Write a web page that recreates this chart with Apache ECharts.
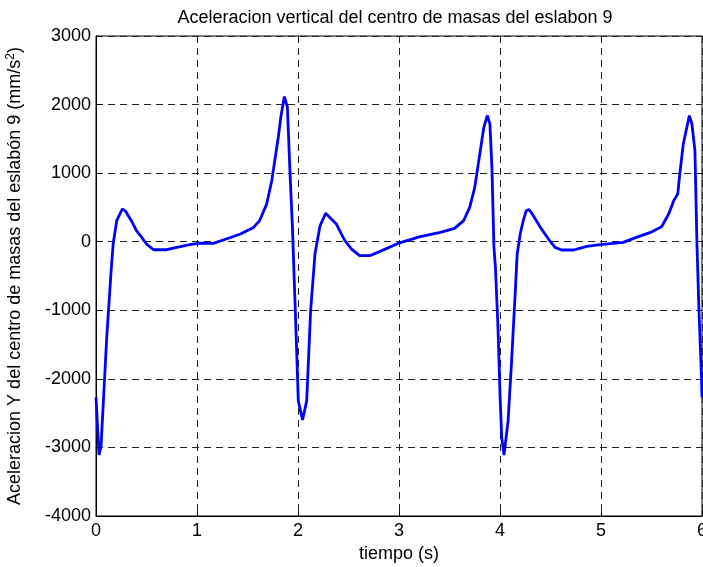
<!DOCTYPE html>
<html>
<head>
<meta charset="utf-8">
<script src="https://cdn.jsdelivr.net/npm/echarts@6/dist/echarts.min.js"></script>
<style>
  html, body { margin: 0; padding: 0; background: #fff; }
  #chart { width: 703px; height: 567px; }
</style>
</head>
<body>
<div id="chart"></div>
<script>
// Time samples (s) along the gait cycles
const timeValues = [
  0.00, 0.03, 0.05, 0.106, 0.15, 0.17, 0.205, 0.26, 0.29, 0.35, 0.40, 0.44, 0.50, 0.57, 0.70, 0.80, 0.93,
  1.03, 1.16, 1.29, 1.43, 1.56, 1.62, 1.69, 1.74, 1.77, 1.805, 1.83, 1.865, 1.895, 1.92, 1.945, 1.97, 1.99,
  2.003, 2.045, 2.086, 2.125, 2.168, 2.218, 2.274, 2.33, 2.38, 2.43, 2.465, 2.53, 2.61, 2.71, 2.83, 2.99,
  3.21, 3.41, 3.55, 3.64, 3.70, 3.75, 3.79, 3.82, 3.84, 3.874, 3.90, 3.92, 3.94, 3.955, 3.98,
  4.00, 4.017, 4.04, 4.08, 4.115, 4.15, 4.17, 4.20, 4.23, 4.26, 4.29, 4.33, 4.40, 4.48, 4.545, 4.61, 4.73, 4.86, 4.99,
  5.12, 5.22, 5.35, 5.49, 5.60, 5.67, 5.72, 5.76, 5.78, 5.815, 5.85, 5.875, 5.90, 5.93, 5.95, 5.97, 5.995, 6.00
];

// Vertical acceleration of link 9 centre of mass (mm/s^2)
const accelValues = [
  -2270, -3110, -2980, -1400, -420, -29, 307, 477, 450, 307, 161, 88, -34, -117, -117, -83, -44,
  -22, -25, 39, 112, 209, 307, 550, 890, 1183, 1523, 1815, 2117, 1961, 1037, 209, -861, -1737,
  -2321, -2600, -2321, -1007, -180, 233, 414, 331, 258, 112, 15, -107, -204, -204, -130, -25,
  73, 136, 195, 307, 501, 793, 1183, 1475, 1669, 1840, 1718, 1085, -83, -375, -1251,
  -2224, -2857, -3110, -2613, -1737, -764, -180, 112, 307, 453, 467, 380, 209, 39, -83, -121, -121, -69, -44,
  -25, -10, 63, 136, 219, 404, 599, 696, 988, 1426, 1669, 1840, 1718, 1329, -34, -1007, -1981, -2273
];

const xTicks = { min: 0, max: 6, interval: 1 };
const yTicks = { min: -4000, max: 3000, interval: 1000 };

const titleText = 'Aceleracion vertical del centro de masas del eslabon 9';
const xName = 'tiempo (s)';
const yName = 'Aceleracion Y del centro de masas del eslabón 9 (mm/s{sup|2})';

const FONT = '"Liberation Sans", Arial, Helvetica, sans-serif';
const FS = 18;

const points = timeValues.map((t, i) => [t, accelValues[i]]);

const gridLine = { show: true, lineStyle: { color: '#222', width: 1, type: [7, 5] } };

const chart = echarts.init(document.getElementById('chart'), null, { renderer: 'canvas' });
chart.setOption({
  backgroundColor: '#fff',
  animation: false,
  title: {
    text: titleText,
    left: 390,
    top: 4,
    textAlign: 'center',
    textStyle: { fontFamily: FONT, fontSize: FS, fontWeight: 'normal', color: '#000' }
  },
  grid: {
    left: 96, top: 36, width: 606, height: 480,
    outerBoundsMode: 'none',
    containLabel: false,
    show: true, borderColor: '#000', borderWidth: 1, backgroundColor: 'transparent'
  },
  xAxis: {
    type: 'value',
    min: xTicks.min, max: xTicks.max, interval: xTicks.interval,
    name: xName,
    nameLocation: 'middle',
    nameGap: 27,
    nameTextStyle: { fontFamily: FONT, fontSize: FS, color: '#000' },
    axisLine: { show: true, onZero: false, lineStyle: { color: '#000', width: 1 } },
    axisTick: { show: true, inside: true, length: 5, lineStyle: { color: '#000' } },
    axisLabel: { fontFamily: FONT, fontSize: FS, color: '#000', margin: 6, formatter: v => String(v) },
    splitLine: gridLine
  },
  yAxis: {
    type: 'value',
    min: yTicks.min, max: yTicks.max, interval: yTicks.interval,
    name: yName,
    nameLocation: 'middle',
    nameGap: 71,
    nameRotate: 90,
    nameTextStyle: {
      fontFamily: FONT, fontSize: FS, color: '#000',
      rich: {
        sup: { fontFamily: FONT, fontSize: 12, color: '#000', verticalAlign: 'top', padding: [0, 0, 8, 0] }
      }
    },
    axisLine: { show: true, onZero: false, lineStyle: { color: '#000', width: 1 } },
    axisTick: { show: true, inside: true, length: 5, lineStyle: { color: '#000' } },
    axisLabel: { fontFamily: FONT, fontSize: FS, color: '#000', margin: 5, formatter: v => String(v) },
    splitLine: gridLine
  },
  series: [{
    type: 'line',
    data: points,
    showSymbol: false,
    smooth: false,
    lineStyle: { color: '#0000ff', width: 2.8 },
    clip: true
  }]
});
</script>
</body>
</html>
